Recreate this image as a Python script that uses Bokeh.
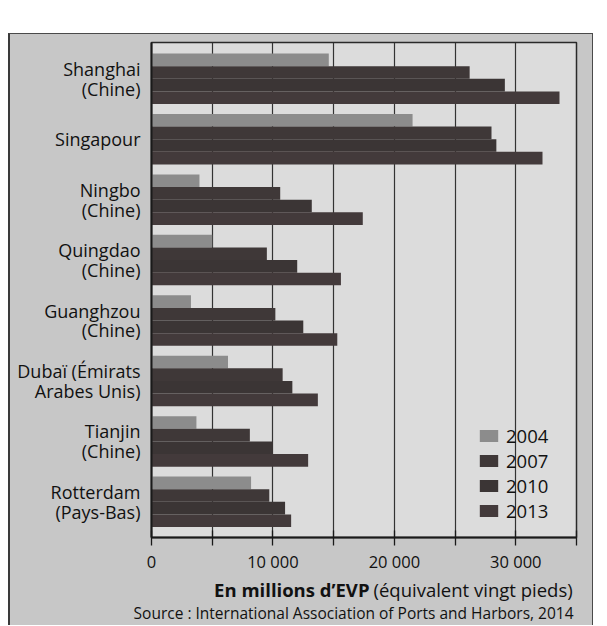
from bokeh.plotting import figure
from bokeh.layouts import column
from bokeh.models import ColumnDataSource, FixedTicker, Legend, LegendItem, Range1d
from bokeh.transform import dodge
from bokeh.embed import file_html
from bokeh.resources import INLINE
from bokeh.core.properties import value

# ---- data ----
ports = ["Shanghai\n(Chine)", "Singapour", "Ningbo\n(Chine)", "Quingdao\n(Chine)",
         "Guanghzou\n(Chine)", "Dubaï (Émirats\nArabes Unis)", "Tianjin\n(Chine)",
         "Rotterdam\n(Pays-Bas)"]
years = ["2004", "2007", "2010", "2013"]
v2004 = [14600, 21500, 3950, 5000, 3250, 6300, 3700, 8200]
v2007 = [26200, 28000, 10600, 9500, 10200, 10800, 8100, 9700]
v2010 = [29100, 28400, 13200, 12000, 12500, 11600, 10000, 11000]
v2013 = [33600, 32200, 17400, 15600, 15300, 13700, 12900, 11500]
x_ticks = [0, 10000, 20000, 30000]
x_tick_labels = ["0", "10 000", "20 000", "30 000"]
x_minor = [5000, 15000, 25000, 35000]
axis_title_bold = "En millions d\u2019EVP"
axis_title_rest = "(équivalent vingt pieds)"
source_text = "Source : International Association of Ports and Harbors, 2014"

FONT = "Open Sans"
OUTER = "#c7c7c7"
INK = "#111111"
n = len(ports)
pos = [n - 1 - i for i in range(n)]

src = ColumnDataSource(dict(pos=pos, y2004=v2004, y2007=v2007, y2010=v2010, y2013=v2013))

W = 582
p = figure(width=W, height=541, output_backend="svg", toolbar_location=None,
           x_range=Range1d(0, 35000), y_range=Range1d(-0.59, 7.6),
           min_border_left=141, min_border_right=16, min_border_top=8, min_border_bottom=34)
p.frame_align = False
p.border_fill_color = OUTER
p.background_fill_color = "#dcdcdc"
p.outline_line_color = "#2a2a2a"
p.outline_line_width = 1.5

h = 0.209
colors = ["#8c8c8c", "#3f3838", "#3b3535", "#433a3b"]
offsets = [1.5 * h, 0.5 * h, -0.5 * h, -1.5 * h]
renderers = []
for yr, col, off in zip(years, colors, offsets):
    r = p.hbar(y=dodge("pos", off, range=p.y_range), left=0, right="y" + yr, height=h,
               source=src, fill_color=col, line_color=None)
    renderers.append(r)

# x axis
ax = p.xaxis[0]
ax.ticker = FixedTicker(ticks=x_ticks, minor_ticks=x_minor)
ax.major_label_overrides = {t: l for t, l in zip(x_ticks, x_tick_labels)}
ax.major_label_text_font = FONT
ax.major_label_text_font_size = "16.5px"
ax.major_label_text_color = INK
ax.major_label_standoff = 4
ax.axis_line_color = "#1a1a1a"
ax.axis_line_width = 2
ax.major_tick_line_color = "#1a1a1a"
ax.minor_tick_line_color = "#1a1a1a"
ax.major_tick_line_width = 1.3
ax.minor_tick_line_width = 1.3
ax.major_tick_in = 7
ax.major_tick_out = 8
ax.minor_tick_in = 7
ax.minor_tick_out = 8

# y axis: port names
ay = p.yaxis[0]
ay.ticker = FixedTicker(ticks=pos, minor_ticks=[])
ay.major_label_overrides = {y: name for y, name in zip(pos, ports)}
ay.major_label_text_font = FONT
ay.major_label_text_font_size = "18px"
ay.major_label_text_color = INK
ay.major_label_text_line_height = 0.83
ay.major_label_standoff = 11
ay.major_tick_in = 0
ay.major_tick_out = 0
ay.minor_tick_in = 0
ay.minor_tick_out = 0
ay.axis_line_color = "#1a1a1a"
ay.axis_line_width = 2

p.ygrid.visible = False
p.xgrid.ticker = FixedTicker(ticks=x_ticks + x_minor)
p.xgrid.grid_line_color = "#333333"
p.xgrid.grid_line_width = 1.2

legend = Legend(items=[LegendItem(label=yr, renderers=[r]) for yr, r in zip(years, renderers)],
                location=(326, 14), orientation="vertical")
legend.glyph_width = 23
legend.glyph_height = 15
legend.label_text_font = FONT
legend.label_text_font_size = "18.5px"
legend.label_text_color = INK
legend.label_height = 18
legend.spacing = 0
legend.padding = 0
legend.margin = 0
legend.label_standoff = 6
legend.border_line_color = None
legend.background_fill_alpha = 0
p.add_layout(legend)

# bottom strip with axis title and source (coordinates in pixels of the strip)
HB = 50
pb = figure(width=W, height=HB, output_backend="svg", toolbar_location=None,
            x_range=Range1d(0, W), y_range=Range1d(HB, 0),
            min_border=0, min_border_left=0, min_border_right=0, min_border_top=0, min_border_bottom=0)
pb.frame_align = False
pb.axis.visible = False
pb.grid.visible = False
pb.outline_line_color = None
pb.border_fill_color = OUTER
pb.background_fill_color = OUTER
pb.text(x=[359], y=[13.5], text=[axis_title_bold], text_align="right", text_baseline="middle",
        text_font=value(FONT), text_font_size="18.5px", text_font_style="bold", text_color=INK)
pb.text(x=[363], y=[13.5], text=[axis_title_rest], text_align="left", text_baseline="middle",
        text_font=value(FONT), text_font_size="18.5px", text_color=INK)
pb.text(x=[563], y=[37.5], text=[source_text], text_align="right", text_baseline="middle",
        text_font=value(FONT), text_font_size="15.5px", text_color=INK)

layout = column(p, pb, spacing=0,
                styles={"margin-left": "8px", "margin-top": "33px",
                        "border-left": "2px solid #3a3a3a", "border-top": "1.5px solid #4a4a4a",
                        "border-right": "1.5px solid #4a4a4a", "background-color": OUTER})

open("out.html", "w").write(file_html(layout, INLINE))
